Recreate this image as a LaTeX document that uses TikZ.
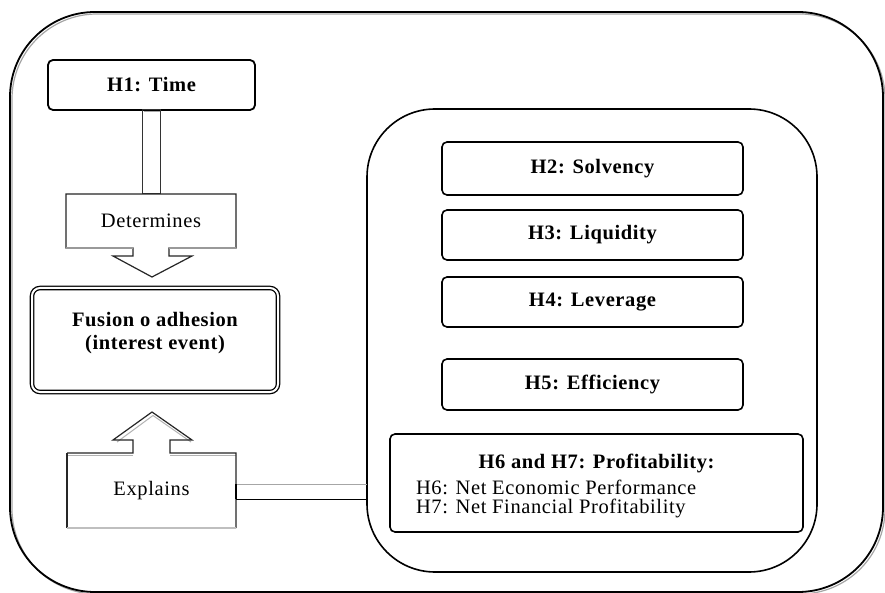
\documentclass[tikz,border=0pt]{standalone}
\usepackage{fontspec}
\setmainfont{Liberation Serif}[LetterSpace=3]
\usetikzlibrary{calc}
\begin{document}
\begin{tikzpicture}[x=1pt,y=-1pt,
  every node/.style={font=\fontsize{20.5}{24}\selectfont, inner sep=0pt, outer sep=0pt},
  frame/.style={draw, line width=1.8pt, rounded corners=85pt},
  group/.style={draw, line width=1.6pt, rounded corners=68pt},
  hyp/.style={draw, line width=1.6pt, rounded corners=5pt, minimum width=301pt, font=\fontsize{20.5}{24}\selectfont\bfseries},
  event/.style={draw, double, double distance=2pt, line width=1.3pt, rounded corners=8pt, align=center},
  callout/.style={draw=black!85, line width=1.2pt, line join=miter},
  calloutbase/.style={draw=black!40, line width=1.1pt},
  link/.style={line width=1pt}]
\useasboundingbox (0,0) rectangle (885,593);
\fill[white] (0,0) rectangle (885,593);

% outer frame with a light offset shadow
\node[frame, draw=black!35, line width=1.2pt, minimum width=873pt, minimum height=580pt] (outershadow) at (448.5,304) {};
\node[frame, minimum width=873pt, minimum height=580pt] (outer) at (446.5,302) {};

% group of financial hypotheses
\node[group, minimum width=450pt, minimum height=463pt] (rbox) at (592,340.5) {};

% hypotheses
\node[hyp, minimum width=207pt, minimum height=50pt, line width=1.8pt] (h1) at (151.5,85) {H1: Time};
\node[hyp, minimum height=53pt] (h2) at (592.5,168.5) {H2: Solvency};
\node[hyp, minimum height=50pt] (h3) at (592.5,235) {H3: Liquidity};
\node[hyp, minimum height=50pt] (h4) at (592.5,302) {H4: Leverage};
\node[hyp, minimum height=51pt] (h5) at (592.5,384.5) {H5: Efficiency};
\node[hyp, minimum width=413pt, minimum height=98pt] (h67) at (596.5,483) {};
\node[font=\fontsize{20.5}{24}\selectfont\bfseries] (h67title) at ($(h67.north)+(0,29)$) {H6 and H7: Profitability:};
\node[anchor=west] (h6) at ($(h67.west)+(26,4)$) {H6: Net Economic Performance};
\node[anchor=west] (h7) at ($(h67.west)+(26,25)$) {H7: Net Financial Profitability};

% event of interest
\node[event, minimum width=246pt, minimum height=104pt] (fus) at (155,340) {};
\node[font=\fontsize{20.5}{23.5}\selectfont\bfseries, align=center] (fustext) at (155,333) {Fusion o adhesion\\(interest event)};

% callouts
\node[minimum width=170pt, minimum height=54pt] (det) at (151,221) {Determines};
\node[minimum width=169pt, minimum height=75pt] (exp) at (151.5,490.5) {Explains};

% shaft from H1 into the "Determines" callout
\draw[link, draw=black!80] ($(h1.south)+(-9,0)$) rectangle ($(det.north)+(9,0)$);
\draw[black!35, line width=1pt] ($(h1.south)+(-8,1.5)$) -- ($(h1.south)+(8,1.5)$);

% "Determines" callout pointing down
\draw[callout] (det.south west) -- (det.north west) -- (det.north east) -- (det.south east)
  -- ++(-67,0) -- ++(0,8) -- ++(23,0) -- ++(-40,21) -- ++(-39,-21) -- ++(20,0) -- ++(0,-8) -- cycle;
\draw[calloutbase] (det.south west) -- ++(67,0);
\draw[calloutbase] (det.south east) -- ++(-67,0);

% "Explains" callout pointing up
\draw[black!30, line width=1pt] ($(exp.north west)+(0,2)$) -- ++(66,0);
\draw[black!30, line width=1pt] ($(exp.north east)+(0,2)$) -- ++(-66,0);
\draw[black!30, line width=1pt] ($(exp.north west)+(66,-11)$) ++(-16,0) -- ++(36,-26.5) -- ++(38,26.5);
\draw[callout] (exp.north west) -- ++(66,0) -- ++(0,-13) -- ++(-20,0) -- ++(39,-28) -- ++(40,28)
  -- ++(-22,0) -- ++(0,13) -- (exp.north east) -- (exp.south east);
\draw[callout] (exp.north west) -- (exp.south west);
\draw[calloutbase, draw=black!25] (exp.south west) -- (exp.south east);

% link from "Explains" to the hypothesis group
\draw[link, black!35] ($(exp.east)+(0,-6.5)$) -- ($(exp.east -| rbox.west)+(0,-6.5)$);
\draw[link] ($(exp.east)+(0,8.5)$) -- ($(exp.east -| rbox.west)+(0,8.5)$);
\draw[line width=2pt] ($(exp.east)+(0,-6.5)$) -- ($(exp.east)+(0,8.5)$);
\end{tikzpicture}
\end{document}
